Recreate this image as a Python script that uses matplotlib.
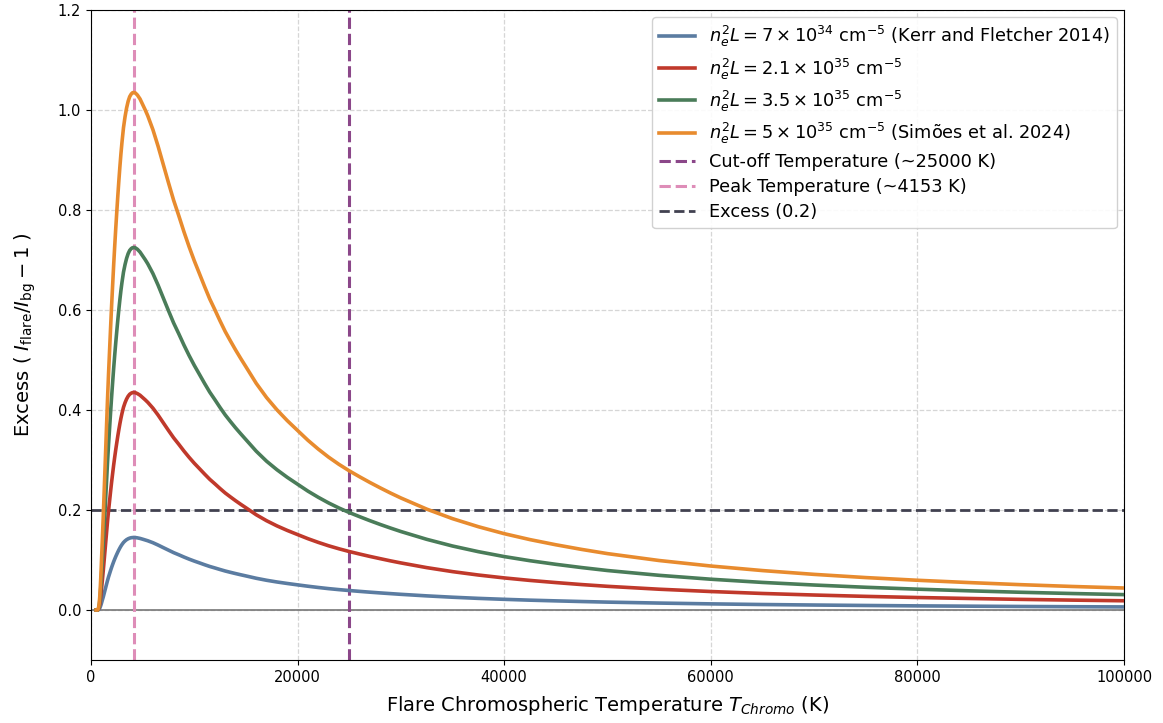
import matplotlib
matplotlib.use("Agg")
import matplotlib.pyplot as plt

temperature = [500, 650, 700, 750, 800, 850, 900, 950, 1000,
               1100, 1200, 1300, 1400, 1500, 1600, 1700, 1800, 1900, 2000,
               2100, 2200, 2300, 2400, 2500, 2600, 2700, 2800, 2900, 3000,
               3150, 3300, 3450, 3600, 3750, 3900, 4025, 4153,
               4300, 4500, 4750, 5000, 5250, 5500,
               6000, 6500, 7000, 7500, 8000, 8500, 9000, 9500, 10000,
               10500, 11000, 11500, 12000, 12500, 13000, 13500, 14000, 14500, 15000,
               16000, 17000, 18000, 19000, 20000, 21000, 22000, 23000, 24000, 25000,
               26000, 27000, 28000, 29000, 30000,
               32500, 35000, 37500, 40000, 42500, 45000, 47500, 50000,
               55000, 60000, 65000, 70000, 75000, 80000, 85000, 90000, 95000, 100000]

excess_kerr = [0, 0, 0.0003, 0.0009, 0.0019, 0.0036, 0.0061, 0.0090, 0.0123,
               0.0196, 0.0268, 0.0348, 0.0428, 0.0508, 0.0587, 0.0660, 0.0725, 0.0790, 0.0853,
               0.0911, 0.0967, 0.1019, 0.1069, 0.1115, 0.1160, 0.1202, 0.1241, 0.1277, 0.1309,
               0.1351, 0.1382, 0.1407, 0.1425, 0.1438, 0.1446, 0.1449, 0.1450,
               0.1449, 0.1443, 0.1432, 0.1417, 0.1401, 0.1385,
               0.1346, 0.1299, 0.1248, 0.1198, 0.1148, 0.1105, 0.1060, 0.1018, 0.0979,
               0.0943, 0.0906, 0.0871, 0.0841, 0.0810, 0.0780, 0.0754, 0.0729, 0.0705, 0.0682,
               0.0635, 0.0595, 0.0561, 0.0531, 0.0503, 0.0476, 0.0451, 0.0428, 0.0408, 0.0390,
               0.0373, 0.0357, 0.0342, 0.0328, 0.0314,
               0.0283, 0.0256, 0.0233, 0.0214, 0.0197, 0.0183, 0.0170, 0.0158,
               0.0139, 0.0123, 0.0110, 0.0100, 0.0091, 0.0083, 0.0077, 0.0071, 0.0066, 0.0062]

excess_21 = [0, 0, 0.0009, 0.0026, 0.0057, 0.0109, 0.0183, 0.0270, 0.0370,
             0.0587, 0.0805, 0.1044, 0.1283, 0.1523, 0.1762, 0.1979, 0.2175, 0.2371, 0.2558,
             0.2732, 0.2901, 0.3058, 0.3206, 0.3345, 0.3480, 0.3606, 0.3724, 0.3832, 0.3928,
             0.4054, 0.4146, 0.4220, 0.4276, 0.4315, 0.4337, 0.4348, 0.4350,
             0.4346, 0.4328, 0.4296, 0.4250, 0.4204, 0.4154,
             0.4037, 0.3898, 0.3745, 0.3593, 0.3445, 0.3315, 0.3180, 0.3054, 0.2936,
             0.2828, 0.2719, 0.2614, 0.2523, 0.2429, 0.2340, 0.2262, 0.2186, 0.2114, 0.2045,
             0.1905, 0.1786, 0.1683, 0.1592, 0.1509, 0.1427, 0.1353, 0.1285, 0.1225, 0.1170,
             0.1120, 0.1072, 0.1027, 0.0983, 0.0942,
             0.0848, 0.0768, 0.0700, 0.0642, 0.0592, 0.0549, 0.0509, 0.0474,
             0.0416, 0.0370, 0.0331, 0.0300, 0.0273, 0.0250, 0.0231, 0.0213, 0.0198, 0.0185]

excess_35 = [0, 0, 0.0015, 0.0044, 0.0094, 0.0181, 0.0305, 0.0450, 0.0616,
             0.0979, 0.1341, 0.1740, 0.2139, 0.2538, 0.2936, 0.3299, 0.3625, 0.3951, 0.4263,
             0.4553, 0.4836, 0.5097, 0.5343, 0.5575, 0.5800, 0.6010, 0.6206, 0.6387, 0.6547,
             0.6757, 0.6909, 0.7033, 0.7127, 0.7192, 0.7228, 0.7246, 0.7250,
             0.7243, 0.7214, 0.7159, 0.7083, 0.7007, 0.6924,
             0.6728, 0.6496, 0.6242, 0.5989, 0.5742, 0.5525, 0.5300, 0.5090, 0.4894,
             0.4713, 0.4531, 0.4357, 0.4205, 0.4049, 0.3901, 0.3770, 0.3643, 0.3524, 0.3408,
             0.3176, 0.2976, 0.2806, 0.2654, 0.2516, 0.2378, 0.2255, 0.2142, 0.2041, 0.1950,
             0.1867, 0.1787, 0.1711, 0.1639, 0.1570,
             0.1414, 0.1280, 0.1167, 0.1069, 0.0986, 0.0914, 0.0849, 0.0790,
             0.0694, 0.0616, 0.0552, 0.0500, 0.0455, 0.0417, 0.0384, 0.0355, 0.0330, 0.0308]

excess_simoes = [0, 0, 0.0021, 0.0062, 0.0135, 0.0259, 0.0435, 0.0642, 0.0880,
                 0.1397, 0.1915, 0.2484, 0.3053, 0.3623, 0.4192, 0.4709, 0.5175, 0.5641, 0.6086,
                 0.6500, 0.6903, 0.7276, 0.7628, 0.7959, 0.8280, 0.8580, 0.8860, 0.9118, 0.9346,
                 0.9646, 0.9864, 1.0040, 1.0174, 1.0267, 1.0319, 1.0345, 1.0350,
                 1.0340, 1.0298, 1.0221, 1.0112, 1.0003, 0.9884,
                 0.9605, 0.9274, 0.8911, 0.8549, 0.8197, 0.7887, 0.7566, 0.7266, 0.6986,
                 0.6728, 0.6469, 0.6220, 0.6003, 0.5780, 0.5568, 0.5382, 0.5201, 0.5030, 0.4865,
                 0.4533, 0.4249, 0.4005, 0.3788, 0.3591, 0.3395, 0.3219, 0.3058, 0.2914, 0.2784,
                 0.2665, 0.2551, 0.2443, 0.2339, 0.2241,
                 0.2018, 0.1827, 0.1666, 0.1527, 0.1408, 0.1305, 0.1212, 0.1128,
                 0.0990, 0.0880, 0.0789, 0.0713, 0.0649, 0.0595, 0.0549, 0.0507, 0.0471, 0.0440]

series_labels = [
    r"$n_e^2L = 7 \times 10^{34}$ cm$^{-5}$ (Kerr and Fletcher 2014)",
    r"$n_e^2L = 2.1 \times 10^{35}$ cm$^{-5}$",
    r"$n_e^2L = 3.5 \times 10^{35}$ cm$^{-5}$",
    r"$n_e^2L = 5 \times 10^{35}$ cm$^{-5}$ (Simões et al. 2024)",
]
series_values = [excess_kerr, excess_21, excess_35, excess_simoes]
series_colors = ["#5b7ca1", "#c0392b", "#4a7c59", "#e88b2e"]

cutoff_temp = 25000
peak_temp = 4153
excess_level = 0.2

fig = plt.figure(figsize=(11.63, 7.23), dpi=100)
ax = fig.add_axes([0.0782, 0.0871, 0.8883, 0.8991])

for vals, lab, col in zip(series_values, series_labels, series_colors):
    ax.plot(temperature, vals, color=col, lw=2.6, label=lab, zorder=3)

ax.axvline(cutoff_temp, color="#8b4789", ls="--", lw=2.2, label="Cut-off Temperature (~25000 K)", zorder=2)
ax.axvline(peak_temp, color="#de8db8", ls="--", lw=2.2, label="Peak Temperature (~4153 K)", zorder=2)
ax.axhline(excess_level, color="#414150", ls="--", lw=2.0, label="Excess (0.2)", zorder=2)
ax.axhline(0, color="#777777", lw=1.2, zorder=1)

ax.set_xlim(0, 100000)
ax.set_ylim(-0.1, 1.2)
ax.set_yticks([0.0, 0.2, 0.4, 0.6, 0.8, 1.0, 1.2])
ax.set_xticks([0, 20000, 40000, 60000, 80000, 100000])
ax.tick_params(labelsize=10.5)
ax.grid(True, ls="--", color="#cccccc", lw=0.9, alpha=0.8)
ax.set_axisbelow(True)

ax.set_xlabel(r"Flare Chromospheric Temperature $T_{Chromo}$ (K)", fontsize=14, labelpad=7)
ax.set_ylabel(r"Excess ( $I_{\rm flare}/I_{\rm bg} - 1$ )", fontsize=14, labelpad=14)

ax.legend(loc="upper right", fontsize=12.8, framealpha=0.9, handlelength=2.0,
          labelspacing=0.4, borderaxespad=0.4)

fig.savefig("out.png", dpi=100)
